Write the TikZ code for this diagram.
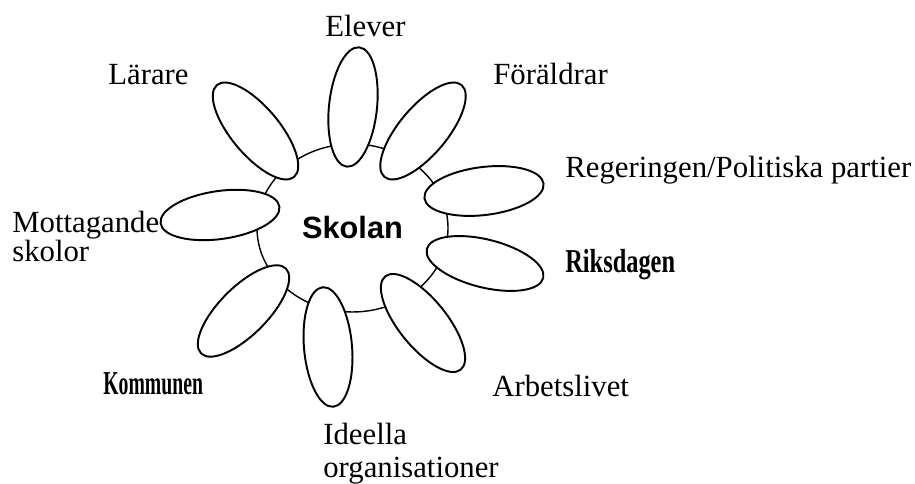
\documentclass[tikz,border=0pt]{standalone}
\usepackage{fontspec}
\setmainfont{Liberation Serif}
\newfontfamily\skolanfont{Liberation Sans}
\usetikzlibrary{
	positioning,
	shapes.geometric
}
\tikzset{
	petal/.style={draw, fill=white, ellipse, line width=1.1pt, inner sep=0pt,
		minimum width=2.4cm, minimum height=0.96cm},
	actortext/.style={anchor=base west, inner sep=0pt, align=left,
		font=\fontsize{17.5}{20}\selectfont},
	boldtext/.style={anchor=base west, inner sep=0pt,
		font=\fontsize{19}{22}\selectfont\bfseries}
}

\begin{document}
\begin{tikzpicture}
		\useasboundingbox (0,0) rectangle (18.3,9.68);
		% center
		\node[draw, ellipse, line width=0.8pt, inner sep=0pt,
			minimum width=3.82cm, minimum height=3.36cm,
			font=\skolanfont\fontsize{17.5}{20}\selectfont\bfseries] (skolan) at (7.05,5.12) {Skolan};
		% petals
		\foreach \n/\x/\y/\ang in {elever/7.06/7.54/84, foraldrar/8.46/7.06/50,
			regeringen/9.68/5.86/7, riksdagen/9.70/4.41/-14, arbetsliv/8.46/3.22/-51,
			ideella/6.56/2.74/95, kommun/4.87/3.46/45, mottagande/4.40/5.38/8,
			larare/5.11/7.06/130}{
			\node[petal, rotate=\ang] (\n) at (\x,\y) {};
		}
		% texts (base = last line)
		\node[actortext] (telever) at (6.5,8.94) {Elever};
		\node[actortext] (tlarare) at (2.16,7.98) {Lärare};
		\node[actortext] (tforaldrar) at (9.86,7.98) {Föräldrar};
		\node[actortext] (tregeringen) at (11.3,6.12) {Regeringen/Politiska partier};
		\node[boldtext] (triksdagen) at (11.3,4.22) {\scalebox{0.73}[1]{Riksdagen}};
		\node[actortext] (tarbetsliv) at (9.84,1.74) {Arbetslivet};
		\node[actortext, font=\fontsize{17.5}{19.3}\selectfont] (tideella) at (6.46,0.12) {Ideella\\organisationer};
		\node[boldtext] (tkommun) at (2.06,1.78) {\scalebox{0.59}[1]{Kommunen}};
		\node[actortext, font=\fontsize{17.5}{15.4}\selectfont] (tmottagande) at (0.24,4.44) {Mottagande\\skolor};
	\end{tikzpicture}
\end{document}
